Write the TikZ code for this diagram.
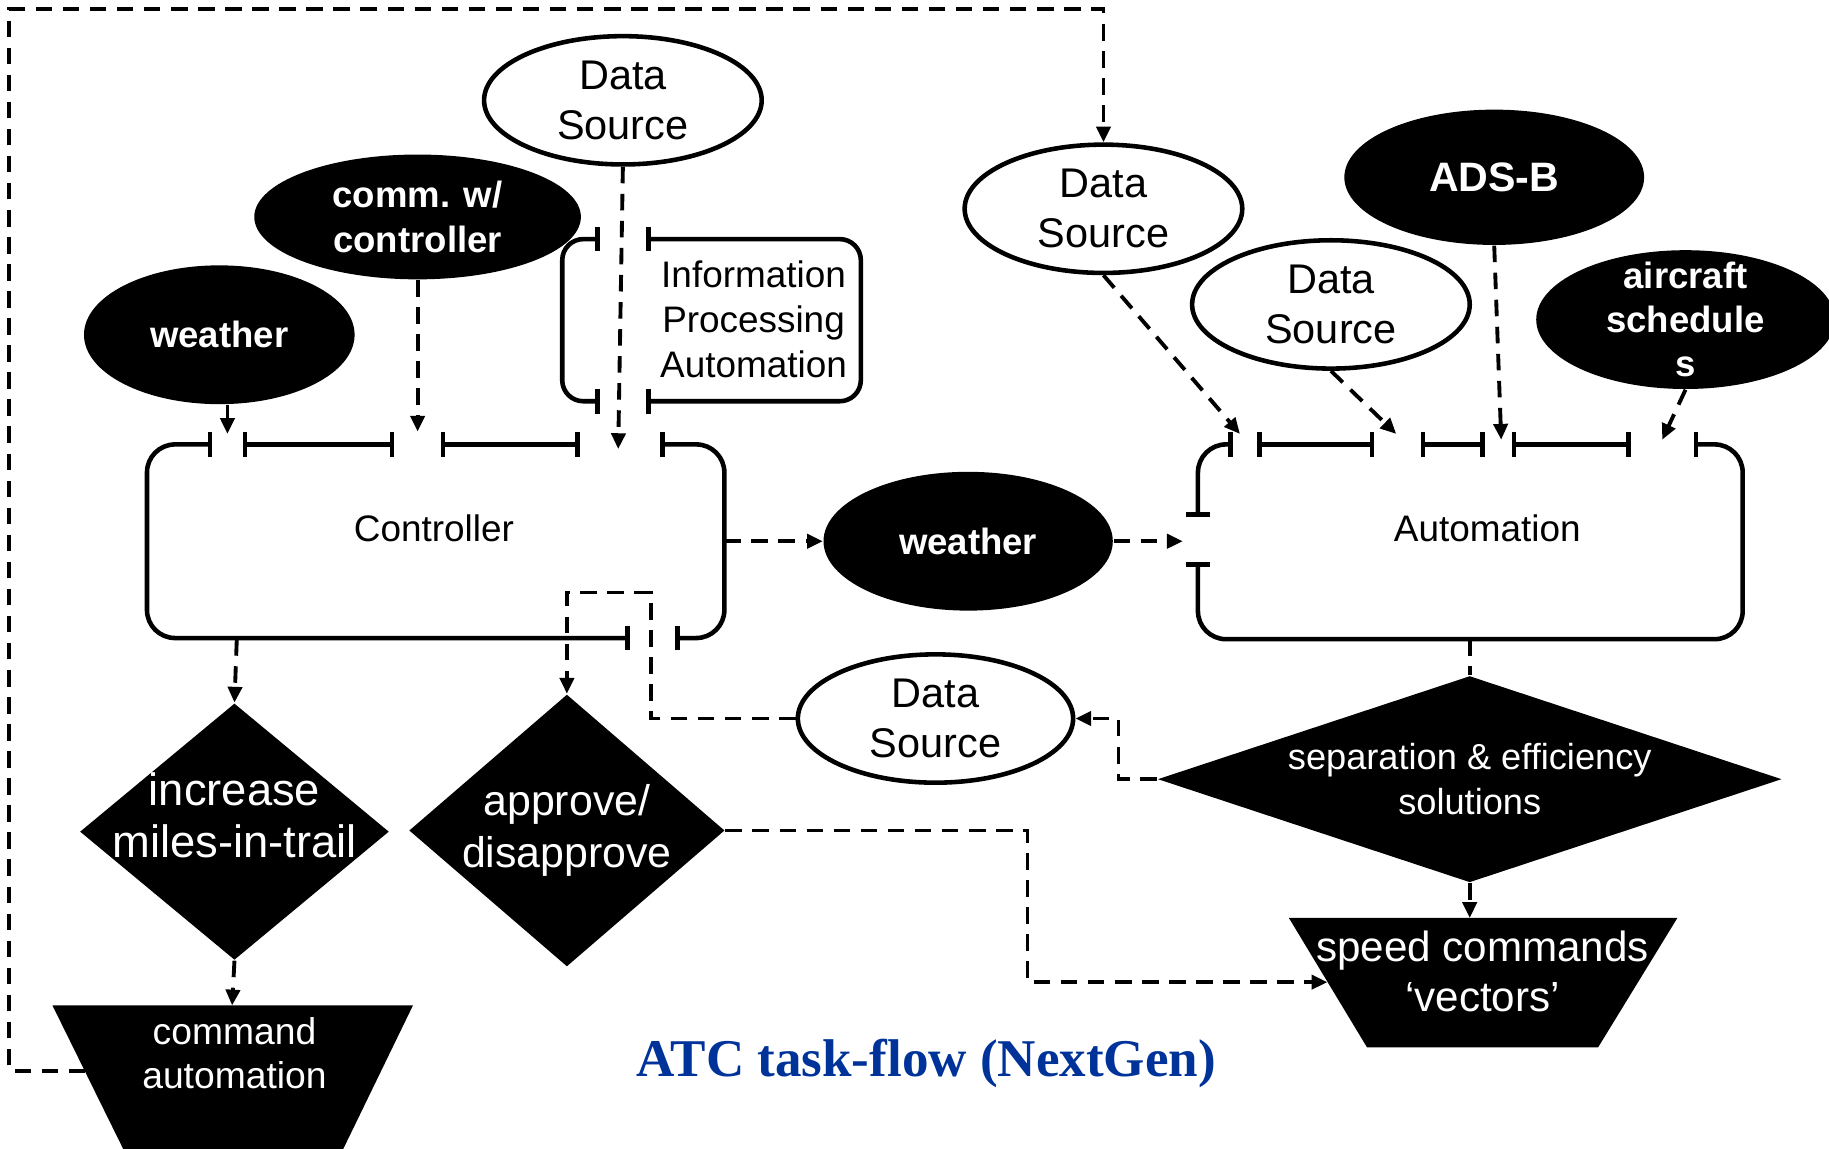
\documentclass[tikz,border=0pt]{standalone}
\usepackage{fontspec}
\setmainfont{Liberation Sans}
\newfontfamily\titlefont{Liberation Serif}
\usetikzlibrary{shapes.geometric,arrows.meta}
\newdimen\pxu \pxu=0.3319pt
\definecolor{titleblue}{RGB}{0,51,153}
\tikzset{
  flow/.style={line width=1.1pt, dash pattern=on 4.7pt off 3pt, -{Triangle[length=4.5pt,width=4pt]}},
  link/.style={line width=1.1pt, dash pattern=on 4.7pt off 3pt},
  frame/.style={line width=1.3pt, rounded corners=8pt, {Bar[width=7pt]}-{Bar[width=7pt]}},
  src/.style={ellipse, draw, line width=1.3pt, fill=white, inner sep=0pt, align=center,
    minimum width=238\pxu, minimum height=110\pxu, font=\fontsize{11.8}{14.3}\selectfont},
  cue/.style={ellipse, fill=black, text=white, inner sep=0pt, align=center,
    font=\fontsize{10.4}{12.6}\selectfont\bfseries},
  pick/.style={diamond, fill=black, text=white, inner sep=0pt, align=center},
  lbl/.style={align=center, font=\fontsize{10.5}{12.8}\selectfont},
}
\begin{document}
\begin{tikzpicture}[x=\pxu, y=-\pxu]
        \useasboundingbox (0,0) rectangle (1568,985);

        %left inputs
        \node (ds1) at (534,86) [src] {Data\\Source};
        \node (comm) at (358,186) [cue, minimum width=280\pxu, minimum height=107\pxu] {comm. w/\\controller};
        \node (wxl) at (188,287) [cue, minimum width=232\pxu, minimum height=119\pxu] {weather};

        %information processing box
        \draw[frame, rounded corners=6pt] (514,205) -- (482,205) -- (482,344) -- (514,344);
        \draw[frame, rounded corners=6pt] (554,205) -- (738,205) -- (738,344) -- (554,344);
        \node (ipa) at (646,274) [lbl] {Information\\Processing\\Automation};

        %controller box
        \draw[frame] (182,381) -- (126,381) -- (126,547) -- (540,547);
        \draw[frame] (208,381) -- (338,381);
        \draw[frame] (378,381) -- (497,381);
        \draw[frame] (566,381) -- (621,381) -- (621,547) -- (579,547);
        \node (ctrl) at (372,453) [lbl] {Controller};
        \coordinate (ctrl-wx) at (195,372);
        \coordinate (ctrl-comm) at (358,370);
        \coordinate (ctrl-ds) at (530,385);
        \coordinate (ctrl-e) at (621,464);
        \coordinate (ctrl-s) at (203,548);

        \node (wxm) at (830,464) [cue, minimum width=248\pxu, minimum height=119\pxu] {weather};

        %right inputs
        \node (ds2) at (946,179) [src] {Data\\Source};
        \node (ds3) at (1141,261) [src] {Data\\Source};
        \node (adsb) at (1281,152) [cue, minimum width=257\pxu, minimum height=116\pxu,
          font=\fontsize{11.7}{14}\selectfont\bfseries] {ADS-B};
        \node (acs) at (1445,274) [cue, minimum width=256\pxu, minimum height=119\pxu,
          inner ysep=-4pt] {aircraft\\schedule\\s};

        %automation box
        \draw[frame] (1057,381) -- (1027,381) -- (1027,443);
        \draw[frame] (1027,482) -- (1027,548) -- (1494,548) -- (1494,381) -- (1452,381);
        \draw[frame] (1078,381) -- (1178,381);
        \draw[frame] (1218,381) -- (1273,381);
        \draw[frame] (1296,381) -- (1398,381);
        \node (auto) at (1275,453) [lbl] {Automation};
        \coordinate (auto-w) at (1014,464);
        \coordinate (auto-ds2) at (1063,372);
        \coordinate (auto-ds3) at (1197,372);
        \coordinate (auto-adsb) at (1287,377);
        \coordinate (auto-acs) at (1425,377);
        \coordinate (auto-s) at (1260,548);

        %decisions
        \node (inc) at (201,713) [pick, minimum width=265\pxu, minimum height=220\pxu] {};
        \node (inc-t) at (201,699) [align=center, text=white, font=\fontsize{12.9}{15}\selectfont] {increase\\miles-in-trail};
        \node (appr) at (486,712) [pick, minimum width=266\pxu, minimum height=229\pxu,
          aspect=1.16, font=\fontsize{12.2}{14.6}\selectfont] {approve/\\disapprove};
        \node (sep) at (1260,668) [pick, minimum width=535\pxu, minimum height=177\pxu,
          aspect=3, font=\fontsize{10.3}{12.6}\selectfont] {separation \& efficiency\\solutions};
        \node (ds4) at (802,616) [src, minimum width=236\pxu] {Data\\Source};

        %outputs
        \fill (45,862) -- (354,862) -- (287,1000) -- (113,1000) -- cycle;
        \node (cmd) at (201,903) [lbl, text=white, font=\fontsize{10.6}{12.3}\selectfont] {command\\automation};
        \coordinate (cmd-n) at (199,862);
        \coordinate (cmd-w) at (73,918);
        \fill (1105,787) -- (1438,787) -- (1370,898) -- (1172,898) -- cycle;
        \node (spd) at (1271,833) [lbl, text=white, font=\fontsize{12}{14.3}\selectfont] {speed commands\\‘vectors’};
        \coordinate (spd-n) at (1260,787);
        \coordinate (spd-w) at (1138,842);

        %connectors
        \draw[flow] (wxl.south -| ctrl-wx) -- (ctrl-wx);
        \draw[flow] (comm.south) -- (ctrl-comm);
        \draw[flow] (ds1.south) -- (ctrl-ds);
        \draw[flow] (ctrl-e) -- (wxm.west);
        \draw[flow] (wxm.east) -- (auto-w);
        \draw[flow] (ds2.south) -- (auto-ds2);
        \draw[flow] (ds3.south) -- (auto-ds3);
        \draw[flow] (adsb.south) -- (auto-adsb);
        \draw[flow] (acs.south) -- (auto-acs);
        \draw[link] (auto-s) -- (sep.north);
        \draw[flow] (sep.west) -- ++(-33,0) |- (ds4.east);
        \draw[flow] (ds4.west) -| (558,508) -| (appr.north);
        \draw[flow] (ctrl-s) -- (inc.north);
        \draw[flow] (inc.south) -- (cmd-n);
        \draw[flow] (sep.south) -- (spd-n);
        \draw[flow] (appr.east) -- ++(259,0) |- (spd-w);
        \draw[flow] (cmd-w) -| (8,8) -| (ds2.north);

        \node (title) at (794,912) [font=\titlefont\bfseries\fontsize{15.1}{18}\selectfont, text=titleblue] {ATC task-flow (NextGen)};
\end{tikzpicture}
\end{document}
